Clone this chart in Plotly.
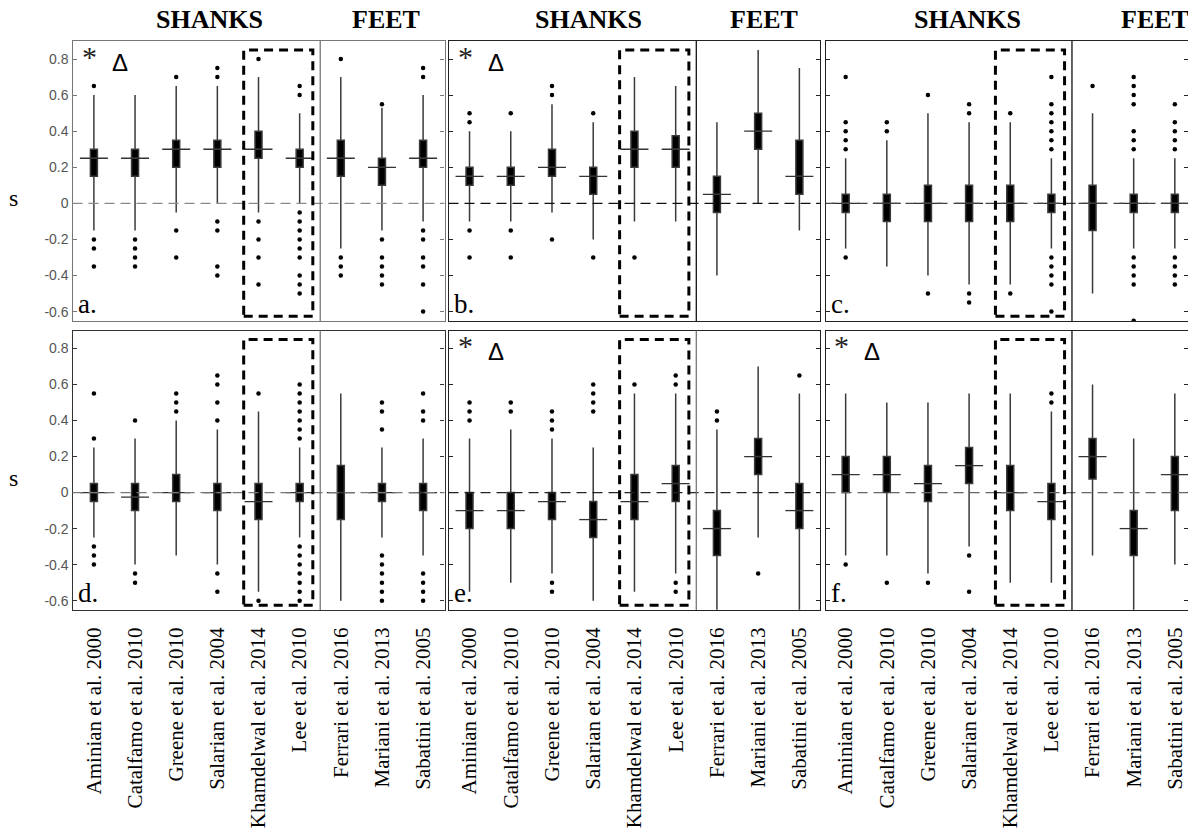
import plotly.graph_objects as go

categories = ["Aminian et al. 2000", "Catalfamo et al. 2010", "Greene et al. 2010",
              "Salarian et al. 2004", "Khamdelwal et al. 2014", "Lee et al. 2010",
              "Ferrari et al. 2016", "Mariani et al. 2013", "Sabatini et al. 2005"]
y_tickvals = [-0.6, -0.4, -0.2, 0, 0.2, 0.4, 0.6, 0.8]
y_ticktext = ["-0.6", "-0.4", "-0.2", "0", "0.2", "0.4", "0.6", "0.8"]
panel_letters = ["a.", "b.", "c.", "d.", "e.", "f."]
panel_marks = [True, True, False, False, True, True]

# ---- panel a ----
a_q1 = [0.15, 0.15, 0.20, 0.20, 0.25, 0.20, 0.15, 0.10, 0.20]
a_med = [0.25, 0.25, 0.30, 0.30, 0.30, 0.25, 0.25, 0.20, 0.25]
a_q3 = [0.30, 0.30, 0.35, 0.35, 0.40, 0.30, 0.35, 0.25, 0.35]
a_lo = [-0.15, -0.15, -0.05, 0.0, -0.05, 0.0, -0.25, -0.15, -0.10]
a_hi = [0.60, 0.60, 0.65, 0.65, 0.70, 0.50, 0.70, 0.53, 0.60]
a_out = [[0.65, -0.2, -0.25, -0.35],
         [-0.2, -0.25, -0.3, -0.35],
         [0.7, -0.15, -0.3],
         [0.7, 0.75, -0.1, -0.15, -0.35, -0.4],
         [0.8, -0.1, -0.2, -0.3, -0.45],
         [0.6, 0.65, -0.05, -0.1, -0.15, -0.2, -0.25, -0.3, -0.4, -0.45, -0.5],
         [0.8, -0.3, -0.35, -0.4],
         [0.55, -0.2, -0.3, -0.35, -0.4, -0.45],
         [0.7, 0.75, -0.15, -0.2, -0.3, -0.35, -0.45, -0.6]]

# ---- panel b ----
b_q1 = [0.10, 0.10, 0.15, 0.05, 0.20, 0.20, -0.05, 0.30, 0.05]
b_med = [0.15, 0.15, 0.20, 0.15, 0.30, 0.30, 0.05, 0.40, 0.15]
b_q3 = [0.20, 0.20, 0.30, 0.20, 0.40, 0.375, 0.15, 0.50, 0.35]
b_lo = [-0.10, -0.10, -0.05, -0.20, -0.10, -0.10, -0.40, 0.0, -0.15]
b_hi = [0.40, 0.40, 0.55, 0.45, 0.70, 0.65, 0.45, 0.85, 0.75]
b_out = [[0.45, 0.5, -0.15, -0.3],
         [0.5, -0.15, -0.3],
         [0.6, 0.65, -0.2],
         [0.5, -0.3],
         [-0.3],
         [],
         [],
         [],
         []]

# ---- panel c ----
c_q1 = [-0.05, -0.10, -0.10, -0.10, -0.10, -0.05, -0.15, -0.05, -0.05]
c_med = [0.0, 0.0, 0.0, 0.0, 0.0, 0.0, 0.0, 0.0, 0.0]
c_q3 = [0.05, 0.05, 0.10, 0.10, 0.10, 0.05, 0.10, 0.05, 0.05]
c_lo = [-0.25, -0.35, -0.40, -0.45, -0.45, -0.25, -0.50, -0.25, -0.25]
c_hi = [0.25, 0.35, 0.50, 0.45, 0.45, 0.25, 0.50, 0.25, 0.25]
c_out = [[0.3, 0.35, 0.4, 0.45, 0.7, -0.3],
         [0.4, 0.45],
         [0.6, -0.5],
         [0.5, 0.55, -0.5, -0.55],
         [0.5, -0.5],
         [0.3, 0.35, 0.4, 0.45, 0.5, 0.55, 0.7, -0.3, -0.35, -0.4, -0.45, -0.6],
         [0.65],
         [0.3, 0.35, 0.4, 0.55, 0.6, 0.65, 0.7, -0.3, -0.35, -0.4, -0.45, -0.65],
         [0.3, 0.35, 0.4, 0.45, 0.55, -0.3, -0.35, -0.4, -0.45]]

# ---- panel d ----
d_q1 = [-0.05, -0.10, -0.05, -0.10, -0.15, -0.05, -0.15, -0.05, -0.10]
d_med = [0.0, -0.025, 0.0, 0.0, -0.05, 0.0, 0.0, 0.0, 0.0]
d_q3 = [0.05, 0.05, 0.10, 0.05, 0.05, 0.05, 0.15, 0.05, 0.05]
d_lo = [-0.25, -0.40, -0.35, -0.40, -0.55, -0.25, -0.60, -0.25, -0.35]
d_hi = [0.25, 0.30, 0.40, 0.35, 0.45, 0.25, 0.55, 0.25, 0.30]
d_out = [[0.3, 0.55, -0.3, -0.35, -0.4],
         [0.4, -0.45, -0.5],
         [0.45, 0.5, 0.55],
         [0.4, 0.5, 0.6, 0.65, -0.45, -0.55],
         [0.55, -0.6],
         [0.3, 0.35, 0.4, 0.45, 0.5, 0.55, 0.6, -0.3, -0.35, -0.4, -0.45, -0.5, -0.55, -0.6],
         [],
         [0.35, 0.45, 0.5, -0.35, -0.4, -0.45, -0.5, -0.55, -0.6],
         [0.4, 0.45, 0.55, -0.45, -0.5, -0.55, -0.6]]

# ---- panel e ----
e_q1 = [-0.20, -0.20, -0.15, -0.25, -0.15, -0.05, -0.35, 0.10, -0.20]
e_med = [-0.10, -0.10, -0.05, -0.15, -0.05, 0.05, -0.20, 0.20, -0.10]
e_q3 = [0.0, 0.0, 0.0, -0.05, 0.10, 0.15, -0.10, 0.30, 0.05]
e_lo = [-0.55, -0.50, -0.45, -0.60, -0.55, -0.45, -0.65, -0.25, -0.65]
e_hi = [0.30, 0.35, 0.30, 0.25, 0.55, 0.55, 0.35, 0.70, 0.55]
e_out = [[0.4, 0.45, 0.5],
         [0.45, 0.5],
         [0.35, 0.4, 0.45, -0.5, -0.55],
         [0.45, 0.5, 0.55, 0.6],
         [0.6],
         [0.6, 0.65, -0.5, -0.55],
         [0.4, 0.45],
         [-0.45],
         [0.65]]

# ---- panel f ----
f_q1 = [0.0, 0.0, -0.05, 0.05, -0.10, -0.15, 0.075, -0.35, -0.10]
f_med = [0.10, 0.10, 0.05, 0.15, 0.0, -0.05, 0.20, -0.20, 0.10]
f_q3 = [0.20, 0.20, 0.15, 0.25, 0.15, 0.05, 0.30, -0.10, 0.20]
f_lo = [-0.35, -0.35, -0.45, -0.30, -0.50, -0.50, -0.35, -0.65, -0.40]
f_hi = [0.55, 0.50, 0.50, 0.55, 0.55, 0.45, 0.60, 0.30, 0.55]
f_out = [[-0.4],
         [-0.5],
         [-0.5],
         [-0.35, -0.55],
         [],
         [0.5, 0.55],
         [],
         [],
         []]

panels = [
    (a_q1, a_med, a_q3, a_lo, a_hi, a_out),
    (b_q1, b_med, b_q3, b_lo, b_hi, b_out),
    (c_q1, c_med, c_q3, c_lo, c_hi, c_out),
    (d_q1, d_med, d_q3, d_lo, d_hi, d_out),
    (e_q1, e_med, e_q3, e_lo, e_hi, e_out),
    (f_q1, f_med, f_q3, f_lo, f_hi, f_out),
]

# ---- layout geometry (pixels) ----
W, H = 1188, 833
col_px = [(72.5, 444.5), (448.5, 820), (825.5, 1188)]
row_px = [(41, 321), (330.5, 610)]
x_ranges = [[-0.52, 8.52], [-0.51, 8.5], [-0.49, 8.32]]
y_range = [-0.652, 0.9]
frame_colors = ["#777777", "#222222", "#222222", "#333333", "#222222", "#222222"]
zero_colors = ["#8a8a8a", "#111111", "#444444", "#777777", "#222222", "#666666"]
sep_colors = ["#777777", "#111111", "#111111", "#777777", "#777777", "#111111"]

serif = "Liberation Serif, Times New Roman, serif"
sans = "Liberation Sans, Arial, sans-serif"

fig = go.Figure()
layout = dict(width=W, height=H, margin=dict(l=0, r=0, t=0, b=0),
              paper_bgcolor="white", plot_bgcolor="white", showlegend=False)
shapes = []
annotations = []

for p, (q1, med, q3, lo, hi, out) in enumerate(panels):
    n = p + 1
    xa = "x" if n == 1 else f"x{n}"
    ya = "y" if n == 1 else f"y{n}"
    row, col = divmod(p, 3)
    xs = list(range(len(categories)))

    fig.add_trace(go.Box(x=xs, q1=q1, median=med, q3=q3, lowerfence=lo, upperfence=hi,
                         width=0.17, whiskerwidth=0, fillcolor="black",
                         line=dict(color="#3a3a3a", width=1.5), boxpoints=False,
                         xaxis=xa, yaxis=ya, hoverinfo="skip"))
    fig.add_trace(go.Scatter(x=xs, y=med, mode="markers", xaxis=xa, yaxis=ya,
                             marker=dict(symbol="line-ew", size=20,
                                         line=dict(width=1.3, color="#333333")),
                             hoverinfo="skip"))
    ox = [i for i, vals in enumerate(out) for _ in vals]
    oy = [v for vals in out for v in vals]
    fig.add_trace(go.Scatter(x=ox, y=oy, mode="markers", xaxis=xa, yaxis=ya,
                             marker=dict(size=4.5, color="black"), hoverinfo="skip"))

    x0, x1 = col_px[col]
    y0, y1 = row_px[row]
    xkey = "xaxis" if n == 1 else f"xaxis{n}"
    ykey = "yaxis" if n == 1 else f"yaxis{n}"
    xdict = dict(domain=[x0 / W, x1 / W], range=x_ranges[col], anchor=ya,
                 showgrid=False, zeroline=False, showline=True, mirror=True,
                 linecolor=frame_colors[p], linewidth=1.4,
                 tickvals=xs, ticktext=categories)
    if row == 1:
        xdict.update(showticklabels=True, tickangle=-90, ticks="outside", ticklen=8,
                     tickcolor="rgba(0,0,0,0)",
                     tickfont=dict(family=serif, size=21, color="black"))
    else:
        xdict.update(showticklabels=False, ticks="")
    ydict = dict(domain=[1 - y1 / H, 1 - y0 / H], range=y_range, anchor=xa,
                 showgrid=False, zeroline=False, showline=True, mirror="ticks",
                 linecolor=frame_colors[p], linewidth=1.4,
                 ticks="inside", ticklen=4, tickcolor=frame_colors[p],
                 tickvals=y_tickvals, ticktext=y_ticktext,
                 showticklabels=(col == 0),
                 tickfont=dict(family=sans, size=14, color="#555555"))
    layout[xkey] = xdict
    layout[ykey] = ydict

    # zero reference line
    shapes.append(dict(type="line", xref=f"{xa} domain", yref=ya, x0=0, x1=1, y0=0, y1=0,
                       line=dict(color=zero_colors[p], width=1.3, dash="10px,6px")))
    # shanks / feet separator
    shapes.append(dict(type="line", xref=xa, yref=f"{ya} domain", x0=5.5, x1=5.5, y0=0, y1=1,
                       line=dict(color=sep_colors[p], width=1.3)))
    # dashed highlight box
    shapes.append(dict(type="rect", xref=xa, yref=ya, x0=3.64, x1=5.32, y0=-0.625, y1=0.85,
                       line=dict(color="black", width=3, dash="9px,6px")))

    annotations.append(dict(text=panel_letters[p], xref=f"{xa} domain", yref=f"{ya} domain",
                            x=0.01, y=0.0, xanchor="left", yanchor="bottom",
                            showarrow=False, font=dict(family=serif, size=27, color="black")))
    if panel_marks[p]:
        annotations.append(dict(text="*", xref=f"{xa} domain", yref=f"{ya} domain",
                                x=0.045, y=0.945, xanchor="center", yanchor="middle",
                                showarrow=False, font=dict(family=serif, size=30, color="#222")))
        annotations.append(dict(text="\u0394", xref=f"{xa} domain", yref=f"{ya} domain",
                                x=0.127, y=0.925, xanchor="center", yanchor="middle",
                                showarrow=False, font=dict(family=sans, size=24, color="black")))

# column headers
headers = [("SHANKS", 209), ("FEET", 386), ("SHANKS", 588), ("FEET", 764),
           ("SHANKS", 967.5), ("FEET", 1155)]
for txt, px in headers:
    annotations.append(dict(text=f"<b>{txt}</b>", xref="paper", yref="paper",
                            x=px / W, y=1 - 20 / H, xanchor="center", yanchor="middle",
                            showarrow=False, font=dict(family=serif, size=26, color="black")))
# y-axis label "s"
for yy in (198, 478):
    annotations.append(dict(text="s", xref="paper", yref="paper", x=13 / W, y=1 - yy / H,
                            xanchor="center", yanchor="middle", showarrow=False,
                            font=dict(family=serif, size=24, color="black")))

layout["shapes"] = shapes
layout["annotations"] = annotations
fig.update_layout(**layout)

fig.write_html("out.html", config={"displayModeBar": False},
               post_script="document.body.style.margin='0';")
